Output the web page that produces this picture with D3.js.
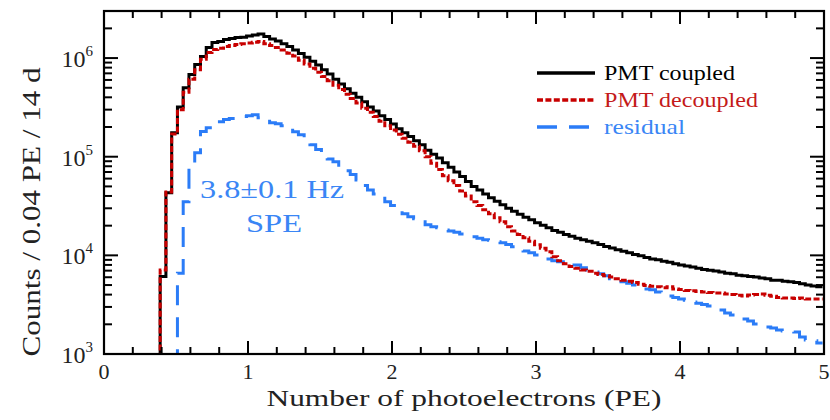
<!DOCTYPE html>
<html lang="en">
<head>
<meta charset="UTF-8" />
<title>PMT photoelectron spectrum</title>
<script src="https://d3js.org/d3.v7.min.js"></script>
<style>
  body { margin: 0; background: #fff; }
  svg text { font-family: "Liberation Serif", "DejaVu Serif", serif; }
</style>
</head>
<body>
<svg id="chart" width="830" height="420"></svg>
<script>
// histogram bins: 0.04 PE wide, first edge at 0.39 PE
const binStart = 0.39;
const binWidth = 0.04;

const coupled = [
  6.1e3, 4.3e4, 1.75e5, 3.2e5, 5.0e5, 6.8e5, 8.6e5, 1.04e6, 1.28e6, 1.44e6,
  1.47e6, 1.54e6, 1.58e6, 1.62e6, 1.63e6, 1.67e6, 1.71e6, 1.75e6, 1.65e6, 1.56e6,
  1.49e6, 1.40e6, 1.31e6, 1.21e6, 1.11e6, 1.02e6, 9.3e5, 8.5e5, 7.6e5, 6.9e5,
  6.1e5, 5.45e5, 4.9e5, 4.4e5, 4.0e5, 3.6e5, 3.2e5, 2.9e5, 2.6e5, 2.38e5,
  2.14e5, 1.92e5, 1.75e5, 1.6e5, 1.45e5, 1.32e5, 1.16e5, 1.06e5, 9.7e4, 8.7e4,
  7.8e4, 7.0e4, 6.3e4, 5.6e4, 5.0e4, 4.6e4, 4.2e4, 3.84e4, 3.53e4, 3.26e4,
  3.0e4, 2.8e4, 2.61e4, 2.43e4, 2.29e4, 2.14e4, 2.02e4, 1.9e4, 1.79e4, 1.71e4,
  1.63e4, 1.56e4, 1.49e4, 1.44e4, 1.39e4, 1.34e4, 1.29e4, 1.23e4, 1.19e4, 1.14e4,
  1.10e4, 1.06e4, 1.02e4, 9.9e3, 9.5e3, 9.2e3, 9.0e3, 8.7e3, 8.5e3, 8.2e3,
  8.0e3, 7.8e3, 7.6e3, 7.4e3, 7.2e3, 7.05e3, 6.95e3, 6.8e3, 6.6e3, 6.5e3,
  6.3e3, 6.2e3, 6.1e3, 6.05e3, 5.9e3, 5.8e3, 5.6e3, 5.6e3, 5.45e3, 5.4e3,
  5.3e3, 5.15e3, 5.0e3, 4.9e3, 4.8e3
];

const decoupled = [
  7.1e3, 4.4e4, 1.7e5, 3.0e5, 4.5e5, 6.1e5, 7.6e5, 9.7e5, 1.14e6, 1.22e6,
  1.26e6, 1.31e6, 1.34e6, 1.37e6, 1.40e6, 1.42e6, 1.45e6, 1.47e6, 1.40e6, 1.34e6,
  1.28e6, 1.21e6, 1.12e6, 1.05e6, 9.5e5, 8.7e5, 7.9e5, 7.2e5, 6.5e5, 5.9e5,
  5.3e5, 4.8e5, 4.3e5, 3.9e5, 3.5e5, 3.1e5, 2.83e5, 2.55e5, 2.29e5, 2.06e5,
  1.86e5, 1.69e5, 1.54e5, 1.40e5, 1.28e5, 1.15e5, 1.0e5, 8.6e4, 7.4e4, 6.4e4,
  5.7e4, 5.1e4, 4.5e4, 4.0e4, 3.5e4, 3.2e4, 2.9e4, 2.64e4, 2.4e4, 2.19e4,
  1.95e4, 1.77e4, 1.63e4, 1.51e4, 1.39e4, 1.28e4, 1.18e4, 1.09e4, 9.7e3, 8.8e3,
  8.2e3, 7.7e3, 7.4e3, 7.1e3, 6.9e3, 6.6e3, 6.4e3, 6.2e3, 6.05e3, 5.8e3,
  5.6e3, 5.45e3, 5.3e3, 5.1e3, 4.96e3, 4.85e3, 4.8e3, 4.7e3, 4.8e3, 4.57e3,
  4.5e3, 4.4e3, 4.37e3, 4.3e3, 4.26e3, 4.2e3, 4.16e3, 4.16e3, 4.06e3, 4.0e3,
  3.93e3, 3.88e3, 3.97e3, 4.0e3, 4.06e3, 3.93e3, 3.84e3, 3.74e3, 3.7e3, 3.7e3,
  3.66e3, 3.7e3, 3.6e3, 3.6e3, 3.6e3
];

// residual is empty (below range) in the first three bins
const residual = [
  0, 0, 0, 6.6e3, 3.5e4, 7.7e4, 1.1e5, 1.8e5, 1.97e5, 2.16e5,
  2.26e5, 2.38e5, 2.44e5, 2.47e5, 2.55e5, 2.6e5, 2.67e5, 2.49e5, 2.38e5, 2.21e5,
  2.16e5, 2.06e5, 1.92e5, 1.79e5, 1.67e5, 1.49e5, 1.32e5, 1.18e5, 1.05e5, 9.5e4,
  8.9e4, 7.9e4, 7.2e4, 6.6e4, 5.8e4, 5.1e4, 4.6e4, 4.2e4, 3.8e4, 3.5e4,
  3.2e4, 2.9e4, 2.64e4, 2.46e4, 2.35e4, 2.19e4, 2.04e4, 1.95e4, 1.90e4, 1.81e4,
  1.77e4, 1.71e4, 1.65e4, 1.58e4, 1.54e4, 1.49e4, 1.44e4, 1.42e4, 1.37e4, 1.34e4,
  1.29e4, 1.22e4, 1.16e4, 1.11e4, 1.06e4, 1.01e4, 9.7e3, 9.2e3, 8.8e3, 8.6e3,
  8.3e3, 8.0e3, 8.0e3, 7.5e3, 7.1e3, 6.8e3, 6.5e3, 6.2e3, 5.8e3, 5.6e3,
  5.4e3, 5.2e3, 5.0e3, 4.8e3, 4.57e3, 4.47e3, 4.26e3, 4.06e3, 3.88e3, 3.75e3,
  3.6e3, 3.5e3, 3.37e3, 3.26e3, 3.18e3, 3.07e3, 2.93e3, 2.8e3, 2.61e3, 2.49e3,
  2.38e3, 2.27e3, 2.16e3, 2.02e3, 1.92e3, 1.88e3, 1.84e3, 1.75e3, 1.71e3, 1.71e3,
  1.67e3, 1.49e3, 1.39e3, 1.36e3, 1.29e3
];

const xTickValues = [0, 1, 2, 3, 4, 5];
const yDecades = [3, 4, 5, 6];

const margin = {top: 11, right: 6, bottom: 66, left: 104};
const width = 830 - margin.left - margin.right;
const height = 420 - margin.top - margin.bottom;

const svg = d3.select("#chart");
const g = svg.append("g").attr("transform", `translate(${margin.left},${margin.top})`);

const x = d3.scaleLinear().domain([0, 5]).range([0, width]);
const y = d3.scaleLog().domain([1e3, 3e6]).range([height, 0]);

svg.append("defs").append("clipPath").attr("id", "plotClip")
  .append("rect").attr("width", width).attr("height", height);

// step histogram path through d3.line + curveStepAfter
function stepPoints(vals) {
  const pts = [{e: binStart, v: 0}];
  vals.forEach((v, i) => pts.push({e: binStart + i * binWidth, v: v}));
  pts.push({e: binStart + vals.length * binWidth, v: vals[vals.length - 1]});
  return pts;
}
const stepLine = d3.line()
  .x(d => x(d.e))
  .y(d => d.v > 0 ? y(d.v) : height + 30)
  .curve(d3.curveStepAfter);

const series = [
  {name: "PMT coupled", vals: coupled, color: "#000000", dash: null, text: "#000000"},
  {name: "PMT decoupled", vals: decoupled, color: "#c80000", dash: "6,2.4", text: "#c41a1a"},
  {name: "residual", vals: residual, color: "#2b7cf7", dash: "20,12", text: "#3a86f5"}
];

const plot = g.append("g").attr("clip-path", "url(#plotClip)");
[series[2], series[0], series[1]].forEach(s => {
  plot.append("path")
    .attr("d", stepLine(stepPoints(s.vals)))
    .attr("fill", "none")
    .attr("stroke", s.color)
    .attr("stroke-width", 3)
    .attr("stroke-dasharray", s.dash);
});

// ticks (inward on all sides)
const ticks = g.append("g").attr("stroke", "#000").attr("stroke-width", 2);
d3.range(0, 26).forEach(k => {
  const v = k * 0.2;
  const major = k % 5 === 0;
  const len = major ? 13 : 7;
  const px = x(v);
  ticks.append("line").attr("x1", px).attr("x2", px).attr("y1", height).attr("y2", height - len);
  ticks.append("line").attr("x1", px).attr("x2", px).attr("y1", 0).attr("y2", len);
});
yDecades.forEach(d => {
  for (let k = 1; k <= 9; k++) {
    const v = k * Math.pow(10, d);
    if (v < 1e3 || v > 3e6) continue;
    const len = k === 1 ? 14 : 8;
    const py = y(v);
    ticks.append("line").attr("x1", 0).attr("x2", len).attr("y1", py).attr("y2", py);
    ticks.append("line").attr("x1", width).attr("x2", width - len).attr("y1", py).attr("y2", py);
  }
});

// frame
g.append("rect")
  .attr("width", width).attr("height", height)
  .attr("fill", "none").attr("stroke", "#000").attr("stroke-width", 2.2);

// tick labels
g.selectAll(".xlab").data(xTickValues).enter().append("text")
  .attr("x", d => x(d)).attr("y", height + 25)
  .attr("text-anchor", "middle").attr("font-size", 22).attr("fill", "#222")
  .text(d => d);

const ylab = g.selectAll(".ylab").data(yDecades).enter().append("text")
  .attr("x", -11).attr("y", d => y(Math.pow(10, d)) + 9)
  .attr("text-anchor", "end").attr("fill", "#222");
ylab.append("tspan").attr("font-size", 24).text("10");
ylab.append("tspan").attr("font-size", 15).attr("dy", -11).text(d => d);

// axis titles
g.append("text")
  .attr("x", width / 2).attr("y", height + 52)
  .attr("text-anchor", "middle").attr("font-size", 23).attr("fill", "#222")
  .attr("textLength", 395).attr("lengthAdjust", "spacingAndGlyphs")
  .text("Number of photoelectrons (PE)");

g.append("text")
  .attr("transform", `translate(${-64},${201}) rotate(-90)`)
  .attr("text-anchor", "middle").attr("font-size", 25).attr("fill", "#222")
  .attr("textLength", 289).attr("lengthAdjust", "spacingAndGlyphs")
  .text("Counts / 0.04 PE / 14 d");

// legend
const legendLen = [131, 154, 81];
const legend = svg.append("g");
series.forEach((s, i) => {
  const ly = 73 + i * 27;
  legend.append("line")
    .attr("x1", 537).attr("x2", 595).attr("y1", ly).attr("y2", ly)
    .attr("stroke", s.color).attr("stroke-width", 3.5)
    .attr("stroke-dasharray", s.dash);
  legend.append("text")
    .attr("x", 604).attr("y", ly + 7)
    .attr("font-size", 21).attr("fill", s.text)
    .attr("textLength", legendLen[i]).attr("lengthAdjust", "spacingAndGlyphs")
    .text(s.name);
});

// annotation
svg.append("text")
  .attr("x", 272).attr("y", 198).attr("text-anchor", "middle")
  .attr("font-size", 25).attr("fill", "#3a86f5")
  .attr("textLength", 144).attr("lengthAdjust", "spacingAndGlyphs")
  .text("3.8\u00b10.1 Hz");
svg.append("text")
  .attr("x", 274).attr("y", 232).attr("text-anchor", "middle")
  .attr("font-size", 25).attr("fill", "#3a86f5")
  .attr("textLength", 56).attr("lengthAdjust", "spacingAndGlyphs")
  .text("SPE");
</script>
</body>
</html>
